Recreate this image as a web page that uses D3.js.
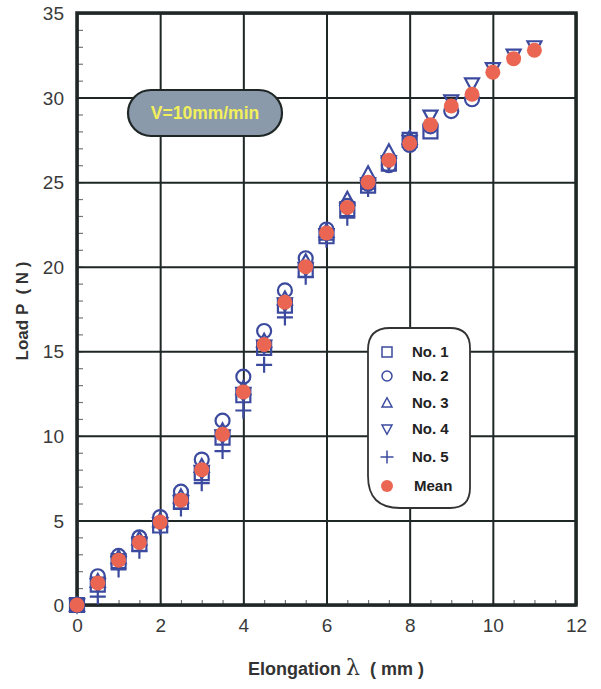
<!DOCTYPE html>
<html>
<head>
<meta charset="utf-8">
<script src="https://cdn.jsdelivr.net/npm/d3@7"></script>
<style>
  body { margin: 0; background: #fff; }
  svg { display: block; }
</style>
</head>
<body>
<div id="chart"></div>
<script>
// elongation steps (mm)
var elong = [0, 0.5, 1, 1.5, 2, 2.5, 3, 3.5, 4, 4.5, 5, 5.5, 6, 6.5, 7, 7.5, 8, 8.5, 9, 9.5, 10, 10.5, 11]

// load P (N) for each specimen
var no1 = [0, 1.2, 2.6, 3.6, 4.7, 6.1, 7.8, 9.9, 12.4, 15.2, 17.7, 19.8, 21.8, 23.4, 24.8, 26.1, 27.5, 28.0]
var no2 = [0, 1.7, 2.9, 4.0, 5.2, 6.7, 8.6, 10.9, 13.5, 16.2, 18.6, 20.5, 22.2, 23.6, 24.9, 26.0, 27.2, 28.3, 29.2, 29.9]
var no3 = [0, 1.4, 2.8, 3.9, 5.0, 6.4, 8.2, 10.3, 12.8, 15.6, 18.1, 20.3, 22.1, 24.0, 25.5, 26.8, 27.6]
var no4 = [0, 1.2, 2.5, 3.6, 4.8, 6.1, 7.9, 10.0, 12.5, 15.3, 17.8, 19.9, 21.9, 23.4, 24.9, 26.2, 27.4, 28.9, 29.8, 30.8, 31.7, 32.5, 33.0]
var no5 = [0, 0.5, 2.1, 3.2, 4.6, 5.7, 7.2, 9.1, 11.5, 14.2, 17.0, 19.4, 21.6, 22.9, 24.6]
var mean = [0, 1.3, 2.65, 3.7, 4.9, 6.2, 8.0, 10.1, 12.6, 15.4, 17.9, 20.0, 22.0, 23.5, 25.0, 26.3, 27.3, 28.4, 29.5, 30.2, 31.5, 32.3, 32.8]

var seriesNames = ['No. 1', 'No. 2', 'No. 3', 'No. 4', 'No. 5', 'Mean']
var xTicks = [0, 2, 4, 6, 8, 10, 12]
var yTicks = [0, 5, 10, 15, 20, 25, 30, 35]

var width = 601
var height = 689
var margin = { top: 13, right: 25, bottom: 84, left: 77 }
var chartWidth = width - margin.left - margin.right
var chartHeight = height - margin.top - margin.bottom

var blue = '#3b4a9e'
var red = '#ea6652'
var gridColor = '#1f2626'

var svg = d3.select('#chart').append('svg')
	.attr('width', width)
	.attr('height', height)
	.style('font-family', 'Liberation Sans, Arial, sans-serif')

var chartInner = svg.append('g')
	.attr('transform', 'translate(' + margin.left + ',' + margin.top + ')')

var xScale = d3.scaleLinear().domain([0, 12]).range([0, chartWidth])
var yScale = d3.scaleLinear().domain([0, 35]).range([chartHeight, 0])

// minor ticks, inside the frame
chartInner.append('g')
	.call(d3.axisBottom(xScale).tickValues(d3.range(0.5, 12, 0.5)).tickSize(-5).tickFormat(''))
	.attr('transform', 'translate(0,' + chartHeight + ')')
	.call(function(g) {
		g.select('.domain').remove()
		g.selectAll('line').attr('stroke', '#777').attr('stroke-width', 1.2)
	})
chartInner.append('g')
	.call(d3.axisLeft(yScale).tickValues(d3.range(1, 35, 1)).tickSize(-6).tickFormat(''))
	.call(function(g) {
		g.select('.domain').remove()
		g.selectAll('line').attr('stroke', '#777').attr('stroke-width', 1.2)
	})

// grid
chartInner.append('g')
	.attr('transform', 'translate(0,' + chartHeight + ')')
	.call(d3.axisBottom(xScale).tickValues(xTicks).tickSize(-chartHeight).tickPadding(14))
	.call(function(g) {
		g.select('.domain').remove()
		g.selectAll('line').attr('stroke', gridColor).attr('stroke-width', 2)
		g.selectAll('text').attr('fill', '#3a3a3a').style('font-size', '19px')
	})
chartInner.append('g')
	.call(d3.axisLeft(yScale).tickValues(yTicks).tickSize(-chartWidth).tickPadding(13))
	.call(function(g) {
		g.select('.domain').remove()
		g.selectAll('line').attr('stroke', gridColor).attr('stroke-width', 2)
		g.selectAll('text').attr('fill', '#3a3a3a').style('font-size', '19px').attr('dy', '0.35em')
	})

// frame
chartInner.append('rect')
	.attr('width', chartWidth)
	.attr('height', chartHeight)
	.attr('fill', 'none')
	.attr('stroke', gridColor)
	.attr('stroke-width', 3.5)

// speed label
var pill = chartInner.append('g')
	.attr('transform', 'translate(' + (205 - margin.left) + ',' + (113 - margin.top) + ')')
pill.append('rect')
	.attr('x', -77).attr('y', -23)
	.attr('width', 154).attr('height', 46)
	.attr('rx', 23).attr('ry', 23)
	.attr('fill', '#8a9aab')
	.attr('stroke', '#1f2626')
	.attr('stroke-width', 2.2)
pill.append('text')
	.attr('text-anchor', 'middle')
	.attr('dy', '0.35em')
	.attr('fill', '#f2f05a')
	.style('font-weight', 'bold')
	.style('font-size', '17.5px')
	.text('V=10mm/min')

// marker shapes
function markerPath(type, s) {
	var h = s / 2
	if (type == 'square') return 'M' + (-h) + ',' + (-h) + 'H' + h + 'V' + h + 'H' + (-h) + 'Z'
	if (type == 'circle') return 'M' + h + ',0A' + h + ',' + h + ' 0 1,1 ' + (-h) + ',0A' + h + ',' + h + ' 0 1,1 ' + h + ',0Z'
	if (type == 'up') return 'M0,' + (-h * 1.05) + 'L' + h + ',' + (h * 0.8) + 'L' + (-h) + ',' + (h * 0.8) + 'Z'
	if (type == 'down') return 'M0,' + (h * 1.05) + 'L' + h + ',' + (-h * 0.8) + 'L' + (-h) + ',' + (-h * 0.8) + 'Z'
	if (type == 'plus') return 'M' + (-h) + ',0H' + h + 'M0,' + (-h) + 'V' + h
}

var series = [
	{ name: seriesNames[0], values: no1, type: 'square' },
	{ name: seriesNames[1], values: no2, type: 'circle' },
	{ name: seriesNames[2], values: no3, type: 'up' },
	{ name: seriesNames[3], values: no4, type: 'down' },
	{ name: seriesNames[4], values: no5, type: 'plus' }
]

series.forEach(function(s) {
	chartInner.append('g').selectAll('path')
		.data(s.values)
		.enter().append('path')
		.attr('transform', function(d, i) {
			return 'translate(' + xScale(elong[i]) + ',' + yScale(d) + ')'
		})
		.attr('d', markerPath(s.type, s.type == 'plus' ? 16 : 14))
		.attr('fill', 'none')
		.attr('stroke', blue)
		.attr('stroke-width', 2.2)
})

chartInner.append('g').selectAll('circle')
	.data(mean)
	.enter().append('circle')
	.attr('cx', function(d, i) { return xScale(elong[i]) })
	.attr('cy', function(d) { return yScale(d) })
	.attr('r', 7.5)
	.attr('fill', red)

// legend
var legend = svg.append('g').attr('transform', 'translate(368,328)')
legend.append('path')
	.attr('d', 'M22,0H82Q102,0 102,20V160Q102,180 82,180H32Q0,180 0,148V22Q0,0 22,0Z')
	.attr('fill', '#fff')
	.attr('stroke', '#333')
	.attr('stroke-width', 1.8)

var legendRows = [24, 48, 75, 101, 129, 158]
series.forEach(function(s, i) {
	legend.append('path')
		.attr('transform', 'translate(19,' + legendRows[i] + ')')
		.attr('d', markerPath(s.type, s.type == 'plus' ? 13 : 10))
		.attr('fill', 'none')
		.attr('stroke', blue)
		.attr('stroke-width', 1.5)
	legend.append('text')
		.attr('x', 44)
		.attr('y', legendRows[i])
		.attr('dy', '0.35em')
		.attr('fill', '#222')
		.style('font-weight', 'bold')
		.style('font-size', '15px')
		.text(s.name)
})
legend.append('circle')
	.attr('cx', 19).attr('cy', legendRows[5])
	.attr('r', 6)
	.attr('fill', red)
legend.append('text')
	.attr('x', 46)
	.attr('y', legendRows[5])
	.attr('dy', '0.35em')
	.attr('fill', '#222')
	.style('font-weight', 'bold')
	.style('font-size', '15px')
	.text(seriesNames[5])

// axis titles
var xTitle = svg.append('text')
	.attr('x', 336)
	.attr('y', 675)
	.attr('text-anchor', 'middle')
	.attr('fill', '#333')
	.style('font-size', '18px')
	.style('font-weight', 'bold')
	.attr('xml:space', 'preserve')
	.style('white-space', 'pre')
xTitle.append('tspan').text('Elongation ')
xTitle.append('tspan').style('font-weight', 'normal').style('font-size', '22px')
	.style('font-family', 'DejaVu Serif, serif').text('λ')
xTitle.append('tspan').text('  ( mm )')

svg.append('text')
	.attr('transform', 'translate(28,311) rotate(-90)')
	.attr('text-anchor', 'middle')
	.attr('fill', '#333')
	.style('font-size', '17px')
	.style('font-weight', 'bold')
	.style('white-space', 'pre')
	.text('Load P  ( N )')
</script>
</body>
</html>
